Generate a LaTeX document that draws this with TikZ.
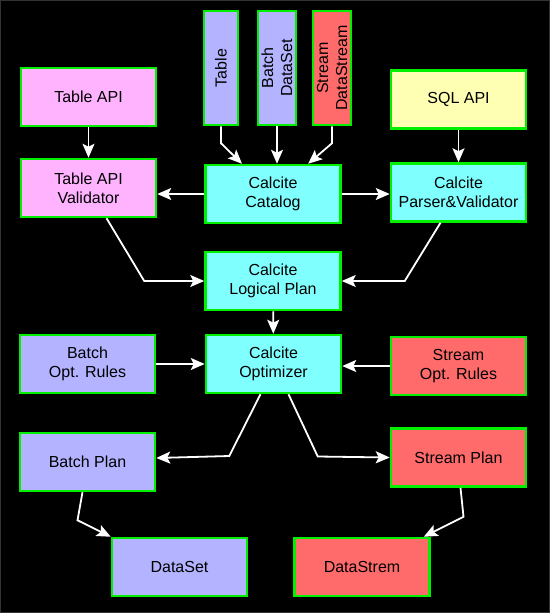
\documentclass[tikz,border=0pt]{standalone}
\usepackage{fontspec}
\setmainfont{Liberation Sans}
\usepackage{tikz}
\usetikzlibrary{positioning}
\usetikzlibrary{calc}
\usetikzlibrary{arrows.meta}

\definecolor{lilac}{HTML}{B3B3FF}
\definecolor{pinkbox}{HTML}{FFB3FF}
\definecolor{cyanbox}{HTML}{80FFFF}
\definecolor{yellowbox}{HTML}{FFFFB3}
\definecolor{redbox}{HTML}{FF6B6B}
\definecolor{edgegreen}{HTML}{00F000}

\begin{document}
\begin{tikzpicture}[x=1pt, y=-1pt,
    every node/.style={font=\fontsize{16}{19}\selectfont},
    box/.style={draw=edgegreen, line width=2.5pt, inner sep=0pt, align=center,
        minimum width=135pt, minimum height=58pt},
    tallbox/.style={box, rotate=90, minimum width=114pt, minimum height=36pt},
    flow/.style={->, white, line width=1.8pt, >={Stealth[length=14pt,width=12pt,inset=3pt]}}]
			\fill[black] (0,0) rectangle (550,613);
			\draw[black!80, line width=0.8pt] (0.4,0.4) rectangle (549.6,612.6);
			\useasboundingbox (0,0) rectangle (550,613);
			\node[tallbox,fill=lilac,minimum height=34pt] (tab) at (221,68) {Table};
			\node[tallbox,fill=lilac,minimum height=38pt] (bds) at (277,68) {Batch\\DataSet};
			\node[tallbox,fill=redbox,minimum height=38pt] (sds) at (332,68) {Stream\\DataStream};
			\node[box,fill=pinkbox] (tapi) at (88.5,97) {Table API};
			\node[box,fill=pinkbox] (val) at (88.5,188) {Table API\\Validator};
			\node[box,fill=cyanbox] (cat) at (273,194) {Calcite\\Catalog};
			\node[box,fill=yellowbox] (sql) at (458.5,99.5) {SQL API};
			\node[box,fill=cyanbox] (par) at (458.5,192.5) {Calcite\\Parser\&Validator};
			\node[box,fill=cyanbox] (lp) at (273,281) {Calcite\\Logical Plan};
			\node[box,fill=cyanbox] (opt) at (273.5,364) {Calcite\\Optimizer};
			\node[box,fill=lilac] (bor) at (87.5,364) {Batch\\Opt. Rules};
			\node[box,fill=redbox] (sor) at (458.5,366) {Stream\\Opt. Rules};
			\node[box,fill=lilac] (bp) at (87.5,462) {Batch Plan};
			\node[box,fill=redbox] (sp) at (458.5,457.5) {Stream Plan};
			\node[box,fill=lilac] (ds) at (179.5,567) {DataSet};
			\node[box,fill=redbox] (dstr) at (362,567) {DataStrem};
			\draw[flow] (tab.west) -- ++(0,17) -- (cat);
			\draw[flow] (bds.west) -- (bds.west |- cat.north);
			\draw[flow] (sds.west) -- ++(0,17) -- (cat);
			\draw[flow] (tapi) -- (val);
			\draw[flow] (cat.west) -- (cat.west -| val.east);
			\draw[flow] (cat.east) -- (cat.east -| par.west);
			\draw[flow] (sql) -- (par);
			\draw[flow] ($(val.south)+(18,0)$) -- ($(lp.west)+(-60,0)$) -- (lp.west);
			\draw[flow] ($(par.south)+(-18,0)$) -- ($(lp.east)+(63,0)$) -- (lp.east);
			\draw[flow] (lp) -- (opt);
			\draw[flow] (bor) -- (opt);
			\draw[flow] (sor.west) -- (sor.west -| opt.east);
			\draw[flow] ($(opt.south)+(-13,0)$) -- ($(bp.east)+(73,-6)$) -- ($(bp.east)+(0,-4)$);
			\draw[flow] ($(opt.south)+(15,0)$) -- ($(sp.west)+(-72,-1)$) -- (sp.west);
			\draw[flow] ($(bp.south)+(-5,0)$) -- ++(-5,28) -- (ds.north west);
			\draw[flow] ($(sp.south)+(2,0)$) -- ++(3,29) -- ($(dstr.north east)+(-7,0)$);
		\end{tikzpicture}
\end{document}
